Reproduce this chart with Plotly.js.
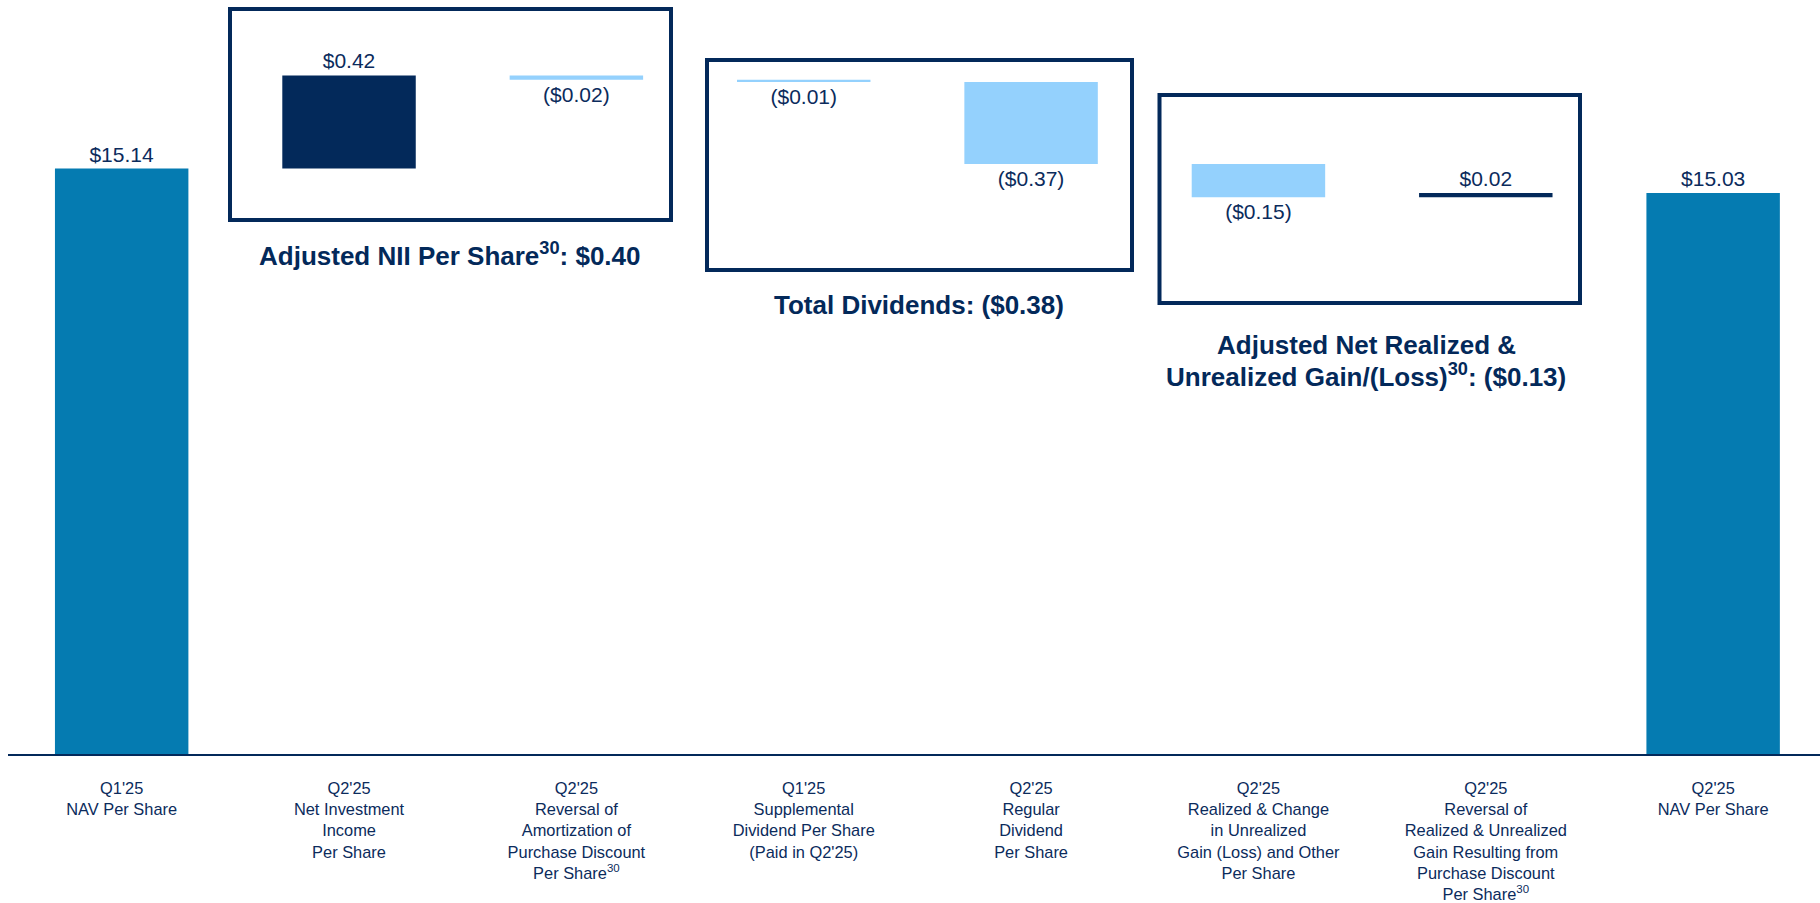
<!DOCTYPE html>
<html>
<head>
<meta charset="utf-8">
<script src="https://cdn.plot.ly/plotly-3.0.1.min.js"></script>
<style>
  html, body { margin: 0; padding: 0; background: #ffffff; }
  #chart { width: 1820px; height: 903px; }
</style>
</head>
<body>
<div id="chart"></div>
<script>
// ---- Data ----
const categories = [
  "Q1'25<br>NAV Per Share",
  "Q2'25<br>Net Investment<br>Income<br>Per Share",
  "Q2'25<br>Reversal of<br>Amortization of<br>Purchase Discount<br>Per Share<sup>30</sup>",
  "Q1'25<br>Supplemental<br>Dividend Per Share<br>(Paid in Q2'25)",
  "Q2'25<br>Regular<br>Dividend<br>Per Share",
  "Q2'25<br>Realized & Change<br>in Unrealized<br>Gain (Loss) and Other<br>Per Share",
  "Q2'25<br>Reversal of<br>Realized & Unrealized<br>Gain Resulting from<br>Purchase Discount<br>Per Share<sup>30</sup>",
  "Q2'25<br>NAV Per Share"
];
const measures = ["absolute", "relative", "relative", "relative", "relative", "relative", "relative", "total"];
const values = [15.14, 0.42, -0.02, -0.01, -0.37, -0.15, 0.02, 0];
const valueLabels = ["$15.14", "$0.42", "($0.02)", "($0.01)", "($0.37)", "($0.15)", "$0.02", "$15.03"];

const groupTitles = [
  "Adjusted NII Per Share<sup>30</sup>: $0.40",
  "Total Dividends: ($0.38)",
  "Adjusted Net Realized &",
  "Unrealized Gain/(Loss)<sup>30</sup>: ($0.13)"
];

// ---- Styles ----
const NAVY = "#03295A";
const TEXT = "#0B2B5C";
const LIGHT = "#94D1FD";
const TOTAL = "#057BB1";
const FONT = "Arial, 'Liberation Sans', sans-serif";

const W = 1820, H = 903;
const M = {l: 8, r: 0, t: 0, b: 149};
const PW = W - M.l - M.r, PH = H - M.t - M.b;
// pixel -> paper helpers for decorative layout items
const px = x => (x - M.l) / PW;
const py = y => 1 - (y - M.t) / PH;

const trace = {
  type: "waterfall",
  x: categories,
  y: values,
  measure: measures,
  text: valueLabels,
  textinfo: "text",
  textposition: "outside",
  textfont: {family: FONT, size: 21, color: TEXT},
  cliponaxis: false,
  width: 0.587,
  connector: {visible: false},
  increasing: {marker: {color: NAVY}},
  decreasing: {marker: {color: LIGHT}},
  totals: {marker: {color: TOTAL}},
  hoverinfo: "skip"
};

const box = (x0, y0, x1, y1) => ({
  type: "rect", xref: "paper", yref: "paper",
  x0: px(x0), x1: px(x1), y0: py(y1), y1: py(y0),
  line: {color: NAVY, width: 4}, fillcolor: "rgba(0,0,0,0)", layer: "above"
});

const title = (text, x, y) => ({
  text: text, xref: "paper", yref: "paper",
  x: px(x), y: py(y), xanchor: "center", yanchor: "middle",
  showarrow: false,
  font: {family: FONT, size: 26, color: NAVY, weight: "bold"}
});

const layout = {
  width: W, height: H,
  margin: M,
  paper_bgcolor: "#ffffff",
  plot_bgcolor: "#ffffff",
  showlegend: false,
  font: {family: FONT, color: TEXT},
  xaxis: {
    type: "category",
    range: [-0.5, 7.47],
    showline: true, linecolor: NAVY, linewidth: 2,
    ticks: "", showgrid: false, zeroline: false,
    ticklabelstandoff: 18,
    tickfont: {family: FONT, size: 16.4, color: TEXT},
    fixedrange: true
  },
  yaxis: {
    range: [12.5, 15.9],
    visible: false, showgrid: false, zeroline: false,
    fixedrange: true
  },
  shapes: [
    box(230, 9, 671, 220),
    box(707, 60, 1132, 270),
    box(1159.5, 95, 1580, 303)
  ],
  annotations: [
    title(groupTitles[0], 450, 254),
    title(groupTitles[1], 919, 305),
    title(groupTitles[2], 1366, 345),
    title(groupTitles[3], 1366, 375)
  ]
};

Plotly.newPlot("chart", [trace], layout, {displayModeBar: false, staticPlot: true});
</script>
</body>
</html>
